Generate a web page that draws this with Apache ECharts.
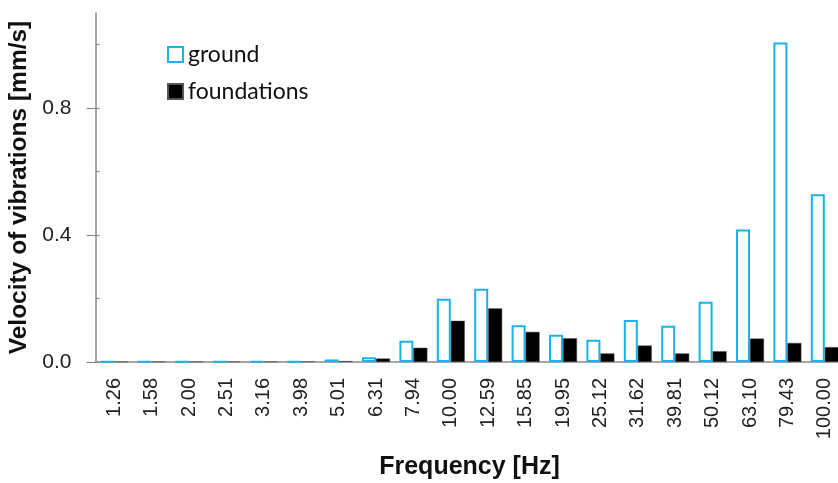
<!DOCTYPE html>
<html><head><meta charset="utf-8">
<script src="https://cdn.jsdelivr.net/npm/echarts@6/dist/echarts.min.js"></script>
<style>html,body{margin:0;padding:0;background:#fff}#c{width:838px;height:483px}</style>
</head><body><div id="c"></div>
<script>
const categories = ['1.26','1.58','2.00','2.51','3.16','3.98','5.01','6.31','7.94','10.00','12.59','15.85','19.95','25.12','31.62','39.81','50.12','63.10','79.43','100.00'];
const ground = [0.002,0.002,0.002,0.002,0.002,0.002,0.008,0.015,0.067,0.199,0.231,0.116,0.086,0.070,0.132,0.114,0.190,0.418,1.007,0.529];
const foundations = [0.001,0.001,0.001,0.001,0.001,0.002,0.003,0.011,0.045,0.130,0.169,0.095,0.075,0.027,0.052,0.027,0.034,0.074,0.060,0.047];
const yLabels = ['0.0','0.4','0.8'];
const yMax = 1.1;

const chart = echarts.init(document.getElementById('c'));
const axisFont = 'Liberation Sans, Arial, sans-serif';
const H = 483, gTop = 13, gBottom = 121;
const plotH = H - gTop - gBottom;
const perUnit = plotH / yMax;
const base = {left: 95.5, width: 748, bottom: gBottom, outerBoundsMode: 'none', containLabel: false};
const tickColor = '#8a8a8a';
chart.setOption({
  animation: false,
  grid: [
    Object.assign({top: gTop}, base),
    Object.assign({top: H - gBottom - 1.0 * perUnit}, base),
    Object.assign({top: H - gBottom - 0.8 * perUnit}, base)
  ],
  legend: {
    orient: 'vertical', left: 167, top: 43, itemGap: 14, padding: 0,
    itemWidth: 15, itemHeight: 15, icon: 'rect',
    textStyle: {fontFamily: 'Lato, sans-serif', fontSize: 23, color: '#111'},
    data: ['ground', 'foundations']
  },
  xAxis: [{
    type: 'category', data: categories, gridIndex: 0,
    name: 'Frequency [Hz]', nameLocation: 'middle', nameGap: 93,
    nameTextStyle: {fontFamily: axisFont, fontWeight: 'bold', fontSize: 25, color: '#111', padding: [0, 0, 0, 0]},
    axisLine: {lineStyle: {color: tickColor, width: 1.5}},
    axisTick: {show: false},
    axisLabel: {rotate: 90, fontFamily: axisFont, fontSize: 20, color: '#222', margin: 16, interval: 0}
  }, {
    type: 'category', data: categories, gridIndex: 1, show: false
  }, {
    type: 'category', data: categories, gridIndex: 2, show: false
  }],
  yAxis: [{
    type: 'value', min: 0, max: yMax, interval: 0.4, gridIndex: 0,
    name: 'Velocity of vibrations [mm/s]', nameLocation: 'middle', nameGap: 62, nameRotate: 90,
    nameTextStyle: {fontFamily: axisFont, fontWeight: 'bold', fontSize: 24.5, color: '#111'},
    axisLine: {show: true, lineStyle: {color: tickColor, width: 1.5}},
    axisTick: {show: false},
    splitLine: {show: false},
    axisLabel: {
      fontFamily: axisFont, fontSize: 21, color: '#222', margin: 24,
      formatter: function (v) {
        const s = (Math.round(v * 10) / 10).toFixed(1);
        return yLabels.indexOf(s) >= 0 && Math.abs(v - parseFloat(s)) < 1e-6 ? s : '';
      }
    }
  }, {
    type: 'value', min: 0, max: 1.0, interval: 0.2, gridIndex: 1,
    axisLine: {show: false},
    axisTick: {show: true, inside: true, length: 4, lineStyle: {color: tickColor, width: 1.2}},
    axisLabel: {show: false}, splitLine: {show: false}
  }, {
    type: 'value', min: 0, max: 0.8, interval: 0.4, gridIndex: 2,
    axisLine: {show: false},
    axisTick: {show: true, inside: false, length: 9, lineStyle: {color: tickColor, width: 1.2}},
    axisLabel: {show: false}, splitLine: {show: false}
  }],
  series: [{
    name: 'ground', type: 'bar', data: ground, barWidth: 14, barGap: '0%',
    xAxisIndex: 0, yAxisIndex: 0,
    itemStyle: {color: '#ffffff', borderColor: '#1ab2ea', borderWidth: 2}
  }, {
    name: 'foundations', type: 'bar', data: foundations, barWidth: 14,
    xAxisIndex: 0, yAxisIndex: 0,
    itemStyle: {color: '#000000', borderColor: '#555', borderWidth: 0.5}
  }]
});
</script></body></html>
